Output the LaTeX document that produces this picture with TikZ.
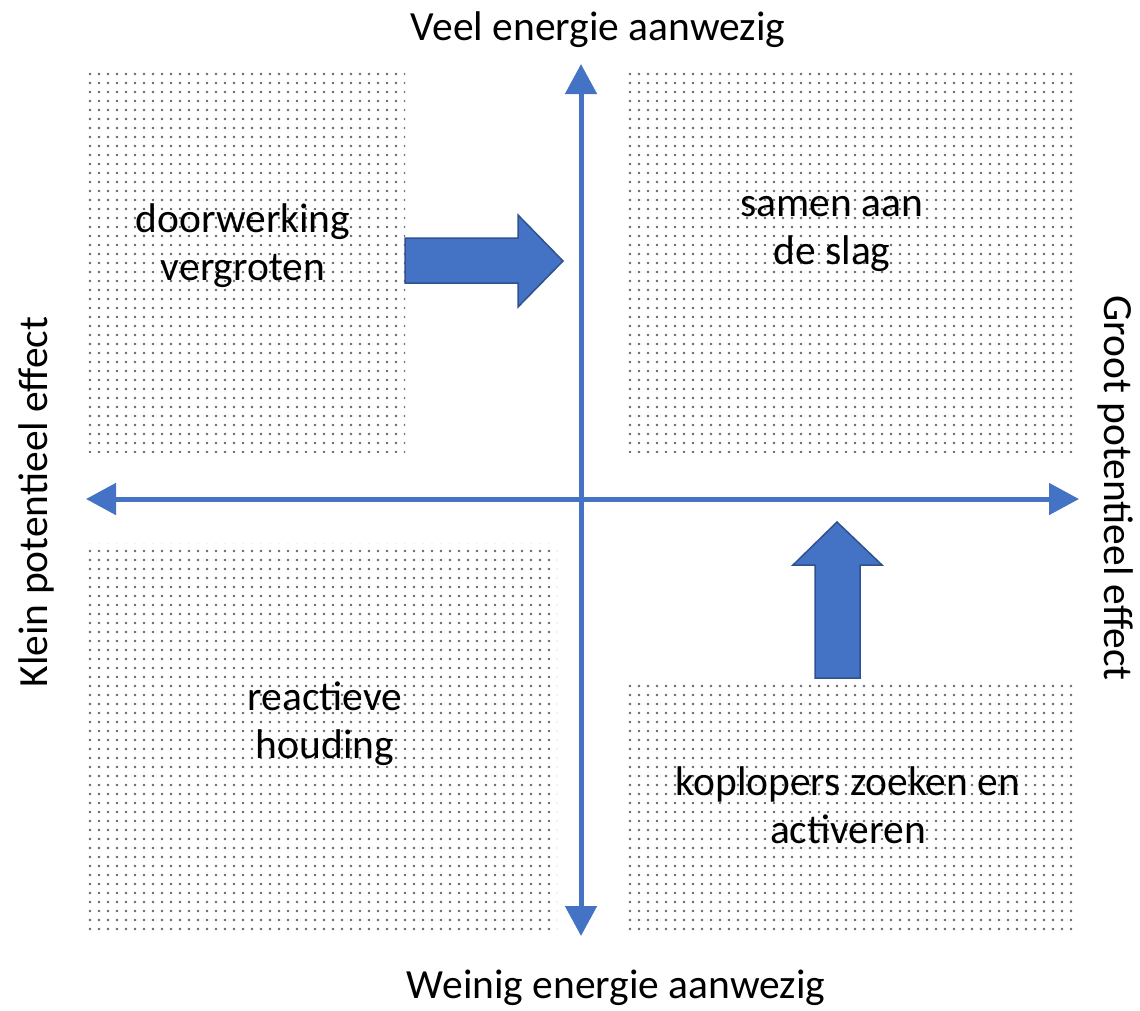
\documentclass[tikz,border=0pt]{standalone}
\usepackage{fontspec}
\setmainfont{Carlito}
\usetikzlibrary{arrows.meta,patterns.meta}
\definecolor{axisblue}{HTML}{4472C4}
\definecolor{edgeblue}{HTML}{2F528F}
\begin{document}
\begin{tikzpicture}[x=1pt,y=-1pt,
  lbl/.style={font=\fontsize{41.5}{48}\selectfont, align=center, inner sep=0pt},
  dotted area/.style={pattern={Dots[distance=9pt, radius=1.3pt]}, pattern color=black!60},
  axisline/.style={line width=5pt, draw=axisblue, -{Triangle[width=31pt,length=30pt]}},
  blockarrow/.style={fill=axisblue, draw=edgeblue, line width=1.5pt, line join=miter}]
\useasboundingbox (0,0) rectangle (1140,1010);
% dotted quadrants
\path[dotted area] (88,67) rectangle (405,452);
\path[dotted area] (625,67) rectangle (1078,452);
\path[dotted area] (88,543) rectangle (557,933);
\path[dotted area] (625,681) rectangle (1078,933);
% axes
\coordinate (O) at (581,499);
\coordinate (top) at (581,64);
\coordinate (bot) at (581,936);
\coordinate (left) at (86,499);
\coordinate (right) at (1079,499);
\draw[axisline] (O) -- (top);
\draw[axisline] (O) -- (bot);
\draw[axisline] (O) -- (left);
\draw[axisline] (O) -- (right);
% block arrows
\draw[blockarrow] (405,238) -- (518,238) -- (518,215) -- (563,261) -- (518,307) -- (518,283) -- (405,283) -- cycle;
\draw[blockarrow] (815,678) -- (815,565) -- (793,565) -- (837,522) -- (882,565) -- (860,565) -- (860,678) -- cycle;
% labels
\node[lbl] (veel) at (598,30) {Veel energie aanwezig};
\node[lbl] (weinig) at (616,988) {Weinig energie aanwezig};
\node[lbl, rotate=90] (klein) at (36,502) {Klein potentieel effect};
\node[lbl, rotate=-90] (groot) at (1116,488) {Groot potentieel effect};
\node[lbl] (q1) at (243,246) {doorwerking\\vergroten};
\node[lbl] (q2) at (832,234) {samen aan\\de slag};
\node[lbl] (q3) at (325,724) {reactieve\\houding};
\node[lbl] (q4) at (848,805) {koplopers zoeken en\\activeren};
\end{tikzpicture}
\end{document}
